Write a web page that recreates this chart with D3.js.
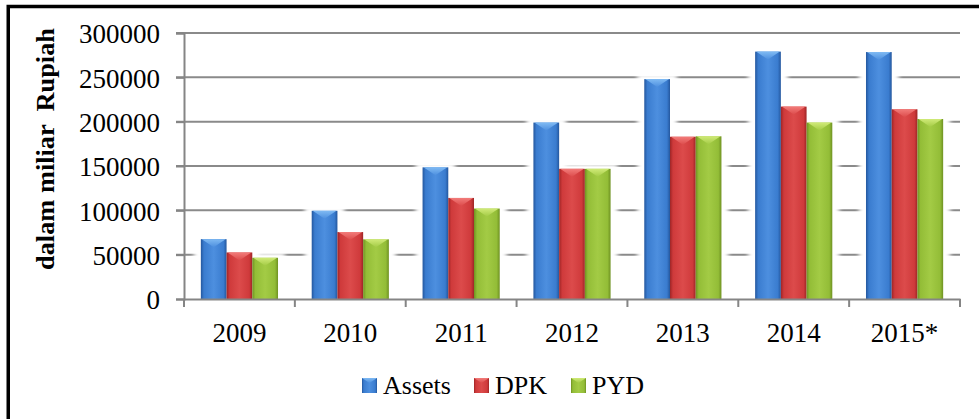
<!DOCTYPE html>
<html>
<head>
<meta charset="utf-8">
<script src="https://cdn.jsdelivr.net/npm/d3@7"></script>
<style>
  html, body { margin: 0; padding: 0; background: #fff; }
  svg { display: block; }
  text { font-family: "Liberation Serif", "Times New Roman", serif; fill: #000; }
</style>
</head>
<body>
<svg id="chart" width="979" height="419"></svg>
<script>
// ---- data ----
const categories = ["2009", "2010", "2011", "2012", "2013", "2014", "2015*"];
const seriesNames = ["Assets", "DPK", "PYD"];
const assets = [67500, 99500, 148500, 199000, 248000, 279000, 278500];
const dpk    = [52500, 75500, 114000, 146800, 183000, 217000, 214000];
const pyd    = [46500, 67300, 102000, 146800, 183500, 199000, 203000];
const yTicks = [0, 50000, 100000, 150000, 200000, 250000, 300000];
const yTitle = "dalam miliar  Rupiah";

const seriesValues = [assets, dpk, pyd];
const palette = [
  { dark: "#24579e", main: "#3a7ccf", light: "#4d8fdf", top: "#7fbaf3" },
  { dark: "#9e2526", main: "#cf3a3b", light: "#dc4b4b", top: "#f27c7a" },
  { dark: "#6f9222", main: "#93bd37", light: "#a3cb45", top: "#d0ea78" }
];

const svg = d3.select("#chart");
const W = 979, H = 419;
const plot = { left: 184, right: 960, top: 33, bottom: 299 };

// outer frame (right and bottom edges run off the picture)
svg.append("rect")
  .attr("x", 8.25).attr("y", 6.5)
  .attr("width", W + 20).attr("height", H + 20)
  .attr("fill", "none").attr("stroke", "#000").attr("stroke-width", 3.5);

const defs = svg.append("defs");
palette.forEach((p, i) => {
  const g = defs.append("linearGradient").attr("id", "bar" + i)
    .attr("x1", "0%").attr("x2", "100%").attr("y1", "0%").attr("y2", "0%");
  [[0, p.dark], [0.12, p.main], [0.5, p.light], [0.88, p.main], [1, p.dark]]
    .forEach(([o, c]) => g.append("stop").attr("offset", o).attr("stop-color", c));
  const t = defs.append("linearGradient").attr("id", "top" + i)
    .attr("x1", "0%").attr("x2", "0%").attr("y1", "0%").attr("y2", "100%");
  t.append("stop").attr("offset", 0).attr("stop-color", p.top);
  t.append("stop").attr("offset", 1).attr("stop-color", p.light);
});
const glow = defs.append("filter").attr("id", "glow")
  .attr("x", "-50%").attr("y", "-50%").attr("width", "200%").attr("height", "200%");
glow.append("feGaussianBlur").attr("stdDeviation", 2);

const x = d3.scaleBand().domain(categories).range([plot.left, plot.right]).paddingInner(0).paddingOuter(0);
const y = d3.scaleLinear().domain([0, 300000]).range([plot.bottom, plot.top]);
const xs = d3.scaleBand().domain(seriesNames).range([0, x.bandwidth()]).paddingOuter(0.655).paddingInner(0);

// gridlines
svg.append("g")
  .selectAll("line").data(yTicks.filter(d => d > 0)).join("line")
  .attr("x1", plot.left - 8).attr("x2", plot.right)
  .attr("y1", d => y(d)).attr("y2", d => y(d))
  .attr("stroke", "#8a8a8a").attr("stroke-width", 2);

// white halo behind bars (breaks gridlines like the original)
const halo = svg.append("g").attr("filter", "url(#glow)");
categories.forEach((c, ci) => {
  seriesNames.forEach((s, si) => {
    const v = seriesValues[si][ci];
    halo.append("rect")
      .attr("x", x(c) + xs(s) - 7).attr("y", y(v) - 5)
      .attr("width", xs.bandwidth() + 14).attr("height", plot.bottom - y(v) + 4)
      .attr("fill", "#fff");
  });
});

// y axis
const yAxis = d3.axisLeft(y).tickValues(yTicks).tickSize(8).tickFormat(d3.format("d"));
const ya = svg.append("g").attr("transform", `translate(${plot.left},0)`).call(yAxis);
ya.select(".domain").attr("stroke", "#858585").attr("stroke-width", 2);
ya.selectAll(".tick line").attr("stroke", "#858585").attr("stroke-width", 2);
ya.selectAll(".tick text")
  .attr("x", -24).attr("dy", "0.36em")
  .style("font-family", "'Liberation Serif', serif").style("font-size", "27px").attr("fill", "#000");

// bars
const groups = svg.append("g");
categories.forEach((c, ci) => {
  seriesNames.forEach((s, si) => {
    const v = seriesValues[si][ci];
    const bx = x(c) + xs(s), bw = xs.bandwidth(), by = y(v), bh = plot.bottom - y(v);
    groups.append("rect")
      .attr("x", bx).attr("y", by).attr("width", bw).attr("height", bh)
      .attr("fill", `url(#bar${si})`);
    groups.append("polygon")
      .attr("points", [[bx + 1, by], [bx + bw - 1, by], [bx + bw / 2, by + 8]].map(p => p.join(",")).join(" "))
      .attr("fill", `url(#top${si})`);
  });
});

// x axis
const xAxis = d3.axisBottom(x).tickSize(0).tickSizeOuter(0);
const xa = svg.append("g").attr("transform", `translate(0,${plot.bottom})`).call(xAxis);
xa.select(".domain").attr("stroke", "#858585").attr("stroke-width", 2);
xa.selectAll(".tick text")
  .attr("y", 43).attr("dy", 0)
  .style("font-family", "'Liberation Serif', serif").style("font-size", "27px").attr("fill", "#000");
// category boundary tick marks
const bounds = categories.map(c => x(c)).concat([plot.right]);
svg.append("g").selectAll("line").data(bounds).join("line")
  .attr("x1", d => d).attr("x2", d => d)
  .attr("y1", plot.bottom).attr("y2", plot.bottom + 8)
  .attr("stroke", "#858585").attr("stroke-width", 2);

// y title
svg.append("text")
  .attr("transform", "translate(54,149) rotate(-90)")
  .attr("text-anchor", "middle")
  .attr("textLength", 242).attr("lengthAdjust", "spacingAndGlyphs")
  .style("font-size", "25px").style("font-weight", "bold")
  .style("white-space", "pre")
  .text(yTitle);

// legend
const legendX = [362, 474, 571];
const lg = svg.append("g");
seriesNames.forEach((s, i) => {
  lg.append("rect").attr("x", legendX[i]).attr("y", 378).attr("width", 15).attr("height", 15)
    .attr("fill", `url(#bar${i})`);
  lg.append("polygon")
    .attr("points", [[legendX[i], 378], [legendX[i] + 15, 378], [legendX[i] + 7.5, 383]].map(p => p.join(",")).join(" "))
    .attr("fill", `url(#top${i})`);
  lg.append("text").attr("x", legendX[i] + 21).attr("y", 394)
    .style("font-size", "26px").text(s);
});
</script>
</body>
</html>
